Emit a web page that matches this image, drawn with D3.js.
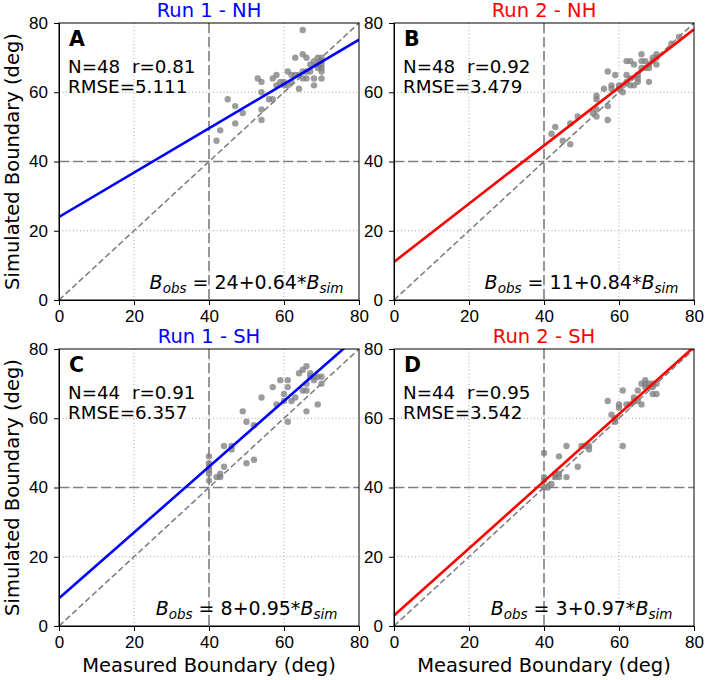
<!DOCTYPE html>
<html>
<head>
<meta charset="utf-8">
<script src="https://cdn.jsdelivr.net/npm/d3@7"></script>
<style>
  body { margin: 0; background: #fff; }
  svg { font-family: "DejaVu Sans", sans-serif; }
  .axis path, .axis line { stroke: #000; }
  .axis text { font-size: 17px; fill: #000; }
</style>
</head>
<body>
<svg id="chart" width="706" height="680"></svg>
<script>
// Measured vs simulated boundary (deg), one array per panel
const run1NH = [[42,46],[43,49],[45,58],[47,56],[47,51],[49,54],[53,64],[54,63],[54,60],[54,55],[54,52],[56,58],
  [57,58],[57,64],[58,65],[58,62],[59,63],[60,62],[61,66],[61,62],[62,65],[62,63],[63,70],[63,65],[64,61],[65,78],
  [65,71],[65,64],[66,70],[66,64],[67,68],[67,66],[68,64],[68,62],[69,70],[69,68],[69,67],[70,70],[70,69],[70,68],
  [70,67],[70,66],[70,64],[64,65],[66,66],[60,63],[68,69],[65,66]];
const run2NH = [[42,48],[43,50],[45,46],[47,45],[47,51],[49,53],[53,54],[54,59],[54,58],[54,55],[54,53],[56,61],
  [57,66],[57,56],[57,52],[58,62],[58,61],[59,65],[60,62],[61,60],[61,62],[62,69],[62,65],[62,63],[63,69],[63,62],
  [64,68],[64,62],[65,65],[65,64],[65,63],[66,71],[66,69],[67,69],[67,67],[68,67],[68,63],[69,69],[70,71],[70,70],
  [70,68],[74,74],[76,76],[68,68],[66,67],[60,61],[63,64],[69,70]];
const run1SH = [[40,49],[40,47],[40,46],[40,44],[40,42],[42,43],[43,44],[44,46],[44,52],[46,52],[46,51],[49,62],
  [50,59],[50,47],[52,58],[52,48],[54,66],[57,69],[58,64],[59,71],[60,67],[60,65],[61,71],[61,69],[61,59],[62,65],
  [63,66],[64,73],[65,74],[65,68],[66,75],[66,68],[66,62],[67,73],[67,72],[68,72],[69,72],[69,64],[70,72],[70,70],
  [66,70],[40,45],[43,43],[68,71]];
const run2SH = [[40,50],[40,43],[40,42],[40,40],[41,40],[42,41],[43,44],[43,43],[44,43],[44,49],[46,52],[46,43],
  [49,46],[50,52],[51,52],[52,52],[52,51],[57,65],[58,61],[59,59],[60,64],[60,63],[61,68],[61,52],[62,64],[63,64],
  [64,66],[65,68],[65,65],[66,70],[66,64],[67,71],[67,70],[68,70],[69,69],[69,67],[70,70],[70,67],[44,44],[68,69],
  [69,70],[67,69],[64,65],[59,60]];

const panelData = [run1NH, run2NH, run1SH, run2SH];
const panelLetters = ["A", "B", "C", "D"];
const panelTitles = ["Run 1 - NH", "Run 2 - NH", "Run 1 - SH", "Run 2 - SH"];
const sampleCounts = [48, 48, 44, 44];
const rValues = ["0.81", "0.92", "0.91", "0.95"];
const rmseValues = ["5.111", "3.479", "6.357", "3.542"];
const fitIntercepts = [24, 11, 8, 3];
const fitSlopes = [0.64, 0.84, 0.95, 0.97];
const tickValues = [0, 20, 40, 60, 80];

const svg = d3.select("#chart");
const width = 300;
const height = 277;
const lefts = [59, 394];
const tops = [23, 349];
const runColors = ["#0000ff", "#ff0000"];

svg.append("rect").attr("width", 706).attr("height", 680).attr("fill", "#fff");

panelData.forEach((pts, i) => createPanel(i, pts));

function createPanel(i, pts) {
  const col = i % 2, row = Math.floor(i / 2);
  const color = runColors[col];

  const x = d3.scaleLinear().domain([0, 80]).range([0, width]);
  const y = d3.scaleLinear().domain([0, 80]).range([height, 0]);

  const g = svg.append("g")
    .attr("transform", "translate(" + lefts[col] + "," + tops[row] + ")");

  g.append("clipPath").attr("id", "clip" + i)
    .append("rect").attr("width", width).attr("height", height);

  // dotted grid
  const grid = g.append("g").attr("stroke", "#999").attr("stroke-width", 0.9)
    .attr("stroke-dasharray", "1,2.5");
  grid.selectAll(".gx").data([20, 40, 60]).enter().append("line")
    .attr("x1", d => x(d)).attr("x2", d => x(d)).attr("y1", 0).attr("y2", height);
  grid.selectAll(".gy").data([20, 40, 60]).enter().append("line")
    .attr("y1", d => y(d)).attr("y2", d => y(d)).attr("x1", 0).attr("x2", width);

  // 40 deg reference lines
  g.append("line").attr("x1", x(40)).attr("x2", x(40)).attr("y1", 0).attr("y2", height)
    .attr("stroke", "#808080").attr("stroke-width", 1.6).attr("stroke-dasharray", "10,4");
  g.append("line").attr("y1", y(40)).attr("y2", y(40)).attr("x1", 0).attr("x2", width)
    .attr("stroke", "#808080").attr("stroke-width", 1.6).attr("stroke-dasharray", "10,4");

  // 1:1 line
  g.append("line").attr("x1", x(0)).attr("y1", y(0)).attr("x2", x(80)).attr("y2", y(80))
    .attr("stroke", "#808080").attr("stroke-width", 1.6).attr("stroke-dasharray", "6,3");

  g.selectAll(".dot")
    .data(pts)
    .enter().append("circle")
    .attr("class", "dot")
    .attr("cx", d => x(d[0]))
    .attr("cy", d => y(d[1]))
    .attr("r", 3.2)
    .attr("fill", "#808080")
    .attr("fill-opacity", 0.78);

  // regression line
  const fit = d3.line().x(d => x(d)).y(d => y(fitIntercepts[i] + fitSlopes[i] * d));
  g.append("path")
    .attr("d", fit([0, 80]))
    .attr("clip-path", "url(#clip" + i + ")")
    .attr("stroke", color).attr("stroke-width", 2.6).attr("fill", "none");

  g.append("g")
    .attr("class", "axis")
    .attr("transform", "translate(0," + height + ")")
    .call(d3.axisBottom(x).tickValues(tickValues).tickSize(5).tickPadding(5));
  g.append("g")
    .attr("class", "axis")
    .call(d3.axisLeft(y).tickValues(tickValues).tickSize(5).tickPadding(6));

  g.append("rect").attr("width", width).attr("height", height)
    .attr("fill", "none").attr("stroke", "#000").attr("stroke-width", 1);

  g.append("text")
    .attr("x", width / 2).attr("y", -6)
    .attr("text-anchor", "middle")
    .attr("font-size", 19.5)
    .attr("fill", color)
    .text(panelTitles[i]);

  g.append("text")
    .attr("x", 10).attr("y", 23)
    .attr("font-size", 20.5).attr("font-weight", "bold")
    .text(panelLetters[i]);

  g.append("text")
    .attr("x", 9).attr("y", 50)
    .attr("font-size", 18.3)
    .style("white-space", "pre")
    .text("N=" + sampleCounts[i] + "  r=" + rValues[i]);
  g.append("text")
    .attr("x", 9).attr("y", 69.5)
    .attr("font-size", 18.3)
    .text("RMSE=" + rmseValues[i]);

  const eq = g.append("text")
    .attr("x", x(50)).attr("y", height - 11)
    .attr("text-anchor", "middle")
    .attr("font-size", 19)
    .style("white-space", "pre");
  eq.append("tspan").attr("font-style", "italic").text("B");
  eq.append("tspan").attr("font-style", "italic").attr("font-size", 13.5).attr("dy", 4).text("obs");
  eq.append("tspan").attr("dy", -4).text(" = " + fitIntercepts[i] + "+" + fitSlopes[i] + "*");
  eq.append("tspan").attr("font-style", "italic").text("B");
  eq.append("tspan").attr("font-style", "italic").attr("font-size", 13.5).attr("dy", 4).text("sim");

  if (col === 0) {
    g.append("text")
      .attr("transform", "rotate(-90)")
      .attr("x", -height / 2).attr("y", -40)
      .attr("text-anchor", "middle")
      .attr("font-size", 19.5)
      .text("Simulated Boundary (deg)");
  }
  if (row === 1) {
    g.append("text")
      .attr("x", width / 2).attr("y", height + 46)
      .attr("text-anchor", "middle")
      .attr("font-size", 19.5)
      .text("Measured Boundary (deg)");
  }
}
</script>
</body>
</html>
